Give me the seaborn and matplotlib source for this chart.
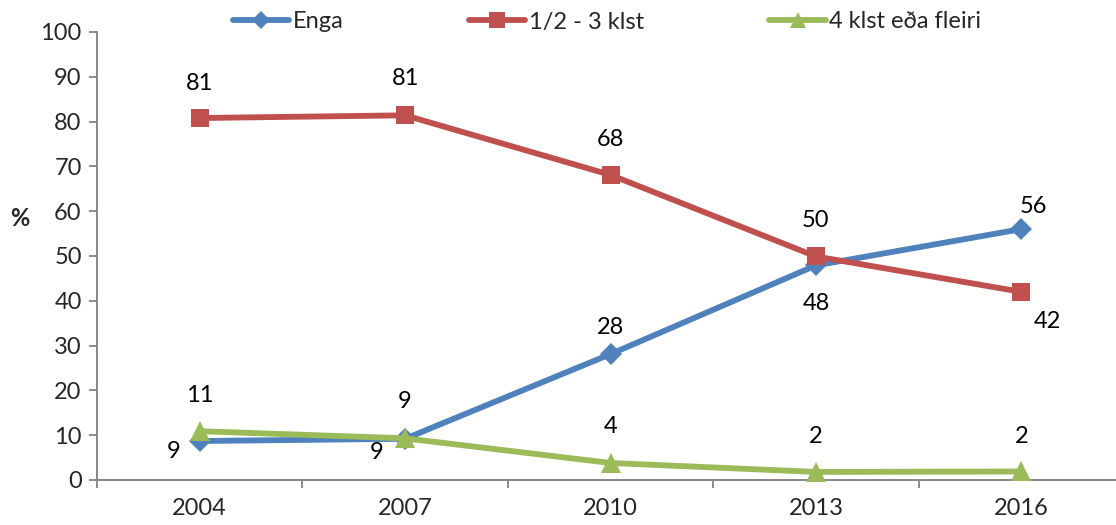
import matplotlib
matplotlib.use("Agg")
import matplotlib.pyplot as plt
import seaborn as sns
import pandas as pd
from matplotlib.lines import Line2D

years = ["2004", "2007", "2010", "2013", "2016"]
series_names = ["Enga", "1/2 - 3 klst", "4 klst eða fleiri"]
enga = [8.7, 9.2, 28.1, 47.9, 56.0]
half_to_three = [80.8, 81.4, 68.1, 49.9, 42.0]
four_plus = [10.9, 9.3, 3.8, 1.8, 1.9]
enga_labels = ["9", "9", "28", "48", "56"]
half_labels = ["81", "81", "68", "50", "42"]
four_labels = ["11", "9", "4", "2", "2"]

colors = ["#4F81BD", "#C0504D", "#9BBB59"]
markers = ["D", "s", "^"]
msizes = [11, 13, 14]
FS = 17
# label offsets in pixels (dx, dy)
offsets = [
    [(-26, -10), (-28, -14), (0, 27), (0, -38), (12, 23)],
    [(0, 35), (0, 37), (0, 35), (0, 36), (26, -30)],
    [(0, 36), (0, 37), (0, 36), (0, 35), (0, 35)],
]

sns.set_theme(style="white")
plt.rcParams["font.family"] = ["Lato", "DejaVu Sans"]

rows = []
for name, vals in zip(series_names, [enga, half_to_three, four_plus]):
    for i, (y, v) in enumerate(zip(years, vals)):
        rows.append({"pos": i, "year": y, "value": v, "series": name})
df = pd.DataFrame(rows)

fig = plt.figure(figsize=(11.16, 5.25), dpi=100)
ax = fig.add_axes([97 / 1116, 45 / 525, (1124 - 97) / 1116, (480 - 32) / 525])

for name, c, m, ms in zip(series_names, colors, markers, msizes):
    sub = df[df["series"] == name]
    sns.lineplot(data=sub, x="pos", y="value", ax=ax, color=c, marker=m,
                 markersize=ms, markeredgewidth=0, linewidth=4.2,
                 legend=False, zorder=3, clip_on=False)

px = 0.72
for vals, labs, offs in zip([enga, half_to_three, four_plus],
                            [enga_labels, half_labels, four_labels], offsets):
    for i, (v, lab, (dx, dy)) in enumerate(zip(vals, labs, offs)):
        ax.annotate(lab, (i, v), xytext=(dx * px, dy * px),
                    textcoords="offset points", ha="center", va="center",
                    fontsize=FS, color="black")

ax.set_xlim(-0.5, len(years) - 0.5)
ax.set_ylim(0, 100)
ax.set_yticks(range(0, 101, 10))
ax.set_xticks(range(len(years)))
ax.set_xticklabels(years)
ax.set_xticks([i - 0.5 for i in range(len(years) + 1)], minor=True)
ax.tick_params(axis="x", which="major", length=0, pad=13, labelsize=FS)
ax.tick_params(axis="x", which="minor", length=6, width=1.3, color="#868686",
               direction="out", bottom=True)
ax.tick_params(axis="y", length=6, width=1.3, color="#868686",
               direction="out", left=True, labelsize=FS, pad=5)
for s in ["top", "right"]:
    ax.spines[s].set_visible(False)
for s in ["left", "bottom"]:
    ax.spines[s].set_color("#868686")
    ax.spines[s].set_linewidth(1.4)
ax.set_xlabel("")
ax.set_ylabel("")
fig.text(20 / 1116, 1 - 218 / 525, "%", fontsize=FS, fontweight="bold",
         ha="center", va="center")

handles = [Line2D([], [], color=c, marker=m, markersize=ms * 0.85,
                  markeredgewidth=0, linewidth=4.2)
           for c, m, ms in zip(colors, markers, msizes)]
fig.legend(handles, series_names, loc="center", ncol=3,
           bbox_to_anchor=(607 / 1116, 1 - 22 / 525), frameon=False,
           fontsize=FS, handlelength=2.4, handletextpad=0.15,
           columnspacing=5.3)

fig.savefig("out.png", dpi=100)
